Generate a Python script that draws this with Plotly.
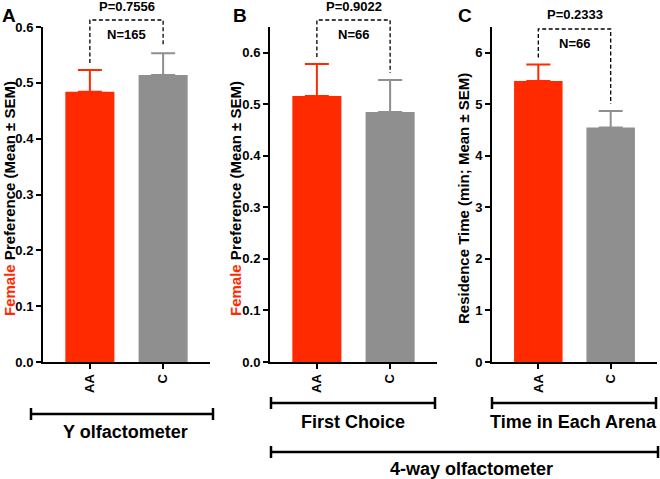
import plotly.graph_objects as go

# ---------------- data ----------------
categories = ["AA", "C"]
means_A = [0.484, 0.514]
sem_A = [0.039, 0.039]
means_B = [0.516, 0.485]
sem_B = [0.062, 0.062]
means_C = [5.45, 4.55]
sem_C = [0.32, 0.32]
p_values = ["P=0.7556", "P=0.9022", "P=0.2333"]
n_labels = ["N=165", "N=66", "N=66"]
panel_letters = ["A", "B", "C"]
y_ranges = [[0, 0.6], [0, 0.65], [0, 6.5]]
y_dticks = [0.1, 0.1, 1]
group_labels = ["Y olfactometer", "First Choice", "Time in Each Arena"]
super_label = "4-way olfactometer"

RED = "#ff2a00"
GRAY = "#8f8f8f"
bar_colors = [RED, GRAY]
FONT = "Liberation Sans, Arial, Helvetica, sans-serif"

W, H = 660, 479
x_domains = [[43 / W, 210 / W], [270 / W, 437 / W], [492 / W, 657 / W]]
y_domain = [1 - 362 / H, 1 - 27 / H]
x_range = [-0.64, 1.64]

panels = [(means_A, sem_A), (means_B, sem_B), (means_C, sem_C)]

fig = go.Figure()


def to_px(i, xv, yv):
    """convert data coords of panel i to paper coords"""
    d = x_domains[i]
    xp = d[0] + (xv - x_range[0]) / (x_range[1] - x_range[0]) * (d[1] - d[0])
    r = y_ranges[i]
    yp = y_domain[0] + (yv - r[0]) / (r[1] - r[0]) * (y_domain[1] - y_domain[0])
    return xp, yp


def bfont(size):
    return dict(family=FONT, size=size, color="black", weight="bold")


shapes = []
annotations = []
bracket_tops = [1 - 20 / H, 1 - 20 / H, 1 - 29 / H]
gap = 7 / H

for i, (means, sems) in enumerate(panels):
    ax = "" if i == 0 else str(i + 1)
    for j, cat in enumerate(categories):
        fig.add_trace(go.Bar(
            x=[cat], y=[means[j]],
            xaxis="x" + ax, yaxis="y" + ax,
            width=0.67,
            marker=dict(color=bar_colors[j], line=dict(width=0)),
            error_y=dict(type="data", array=[sems[j]], arrayminus=[0], symmetric=False,
                         color=bar_colors[j], thickness=2, width=12),
            showlegend=False, hoverinfo="skip",
        ))
    fig.layout["xaxis" + ax] = dict(
        domain=x_domains[i], anchor="y" + ax, range=x_range,
        type="category", categoryorder="array", categoryarray=categories,
        tickmode="array", tickvals=categories,
        ticktext=["<b>" + c + "</b>" for c in categories],
        showline=True, linecolor="black", linewidth=2,
        ticks="outside", ticklen=5, tickwidth=2, tickcolor="black",
        tickangle=-90, showgrid=False, zeroline=False, automargin=False,
        tickfont=bfont(13), fixedrange=True,
    )
    fig.layout["yaxis" + ax] = dict(
        domain=y_domain, anchor="x" + ax, range=y_ranges[i],
        dtick=y_dticks[i], tick0=0,
        tickformat=".1f" if i < 2 else "d",
        tickprefix="<b>", ticksuffix="</b>",
        showline=True, linecolor="black", linewidth=2,
        ticks="outside", ticklen=5, tickwidth=2, tickcolor="black",
        showgrid=False, zeroline=False, automargin=False,
        tickfont=bfont(13), fixedrange=True,
    )

    # dashed comparison bracket
    xl, yl = to_px(i, 0, means[0] + sems[0])
    xr, yr = to_px(i, 1, means[1] + sems[1])
    top = bracket_tops[i]
    shapes.append(dict(type="path", xref="paper", yref="paper",
                       path=f"M{xl},{yl + gap} L{xl},{top} L{xr},{top} L{xr},{yr + gap}",
                       line=dict(color="black", width=1.3, dash="4px,2.5px")))
    xm = (xl + xr) / 2
    annotations.append(dict(x=xm, y=top + 14 / H, xref="paper", yref="paper",
                            text="<b>" + p_values[i] + "</b>", showarrow=False,
                            xanchor="center", yanchor="middle", font=bfont(13)))
    annotations.append(dict(x=xm, y=top - 15 / H, xref="paper", yref="paper",
                            text="<b>" + n_labels[i] + "</b>", showarrow=False,
                            xanchor="center", yanchor="middle", font=bfont(13)))

# panel letters
letter_x = [8.5, 240, 465]
for i, L in enumerate(panel_letters):
    annotations.append(dict(x=letter_x[i] / W, y=1 - 16 / H, xref="paper", yref="paper",
                            text="<b>" + L + "</b>", showarrow=False, xanchor="center",
                            yanchor="middle", font=bfont(19)))

# y-axis titles
ytitles = [f"<b><span style='color:{RED}'>Female</span> Preference (Mean ± SEM)</b>",
           f"<b><span style='color:{RED}'>Female</span> Preference (Mean ± SEM)</b>",
           "<b>Residence Time (min; Mean ± SEM)</b>"]
ytitle_x = [9, 235, 463]
for i, t in enumerate(ytitles):
    annotations.append(dict(x=ytitle_x[i] / W, y=1 - 199 / H, xref="paper", yref="paper",
                            text=t, showarrow=False, textangle=-90,
                            xanchor="center", yanchor="middle", font=bfont(15)))


# group brackets under the panels
def hbracket(x0, x1, y):
    yp = 1 - y / H
    c = 6 / H
    shapes.append(dict(type="line", xref="paper", yref="paper", x0=x0 / W, x1=x1 / W,
                       y0=yp, y1=yp, line=dict(color="black", width=2.5)))
    for xx in (x0, x1):
        shapes.append(dict(type="line", xref="paper", yref="paper", x0=xx / W, x1=xx / W,
                           y0=yp - c, y1=yp + c, line=dict(color="black", width=2.5)))


hbracket(31, 213, 414)
hbracket(271, 435, 403)
hbracket(492, 656, 403)
hbracket(271, 658, 452)

label_pos = [(125, 432), (353, 422), (573, 422)]
for (lx, ly), t in zip(label_pos, group_labels):
    annotations.append(dict(x=lx / W, y=1 - ly / H, xref="paper", yref="paper",
                            text="<b>" + t + "</b>", showarrow=False, xanchor="center",
                            yanchor="middle", font=bfont(18)))
annotations.append(dict(x=471 / W, y=1 - 469 / H, xref="paper", yref="paper",
                        text="<b>" + super_label + "</b>", showarrow=False,
                        xanchor="center", yanchor="middle", font=bfont(18)))

fig.update_layout(
    template="none",
    width=W, height=H, autosize=False,
    margin=dict(l=0, r=0, t=0, b=0, pad=0, autoexpand=False),
    paper_bgcolor="white", plot_bgcolor="rgba(0,0,0,0)",
    barmode="overlay",
    shapes=shapes, annotations=annotations,
    font=dict(family=FONT, color="black"),
    showlegend=False,
)

fig.write_html(
    "out.html",
    config={"displayModeBar": False, "staticPlot": True},
    post_script="document.body.style.margin='0';document.body.style.overflow='hidden';",
)
